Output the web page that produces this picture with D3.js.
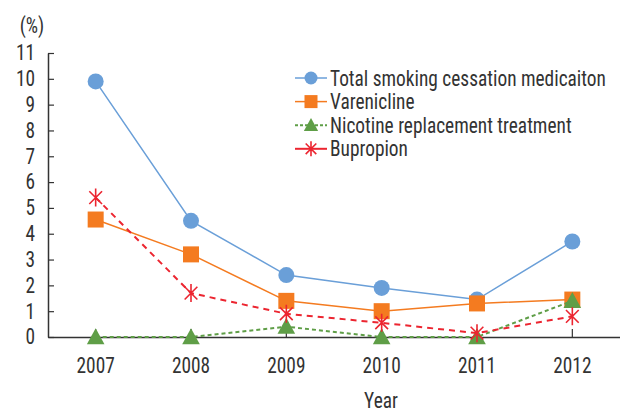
<!DOCTYPE html>
<html>
<head>
<meta charset="utf-8">
<script src="https://cdn.jsdelivr.net/npm/d3@7"></script>
<style>
  body { margin: 0; background: #fff; }
  text { font-family: "Roboto Condensed", "Roboto", sans-serif; fill: #333; }
</style>
</head>
<body>
<div id="chart"></div>
<script>
// Data
const years = ["2007", "2008", "2009", "2010", "2011", "2012"];
const total = [9.9, 4.5, 2.4, 1.9, 1.45, 3.7];
const varenicline = [4.55, 3.2, 1.4, 1.0, 1.3, 1.45];
const nicotine = [0, 0, 0.4, 0, 0, 1.4];
const bupropion = [5.4, 1.7, 0.9, 0.55, 0.15, 0.8];
const yTicks = d3.range(0, 12);

const series = [
    { name: "Total smoking cessation medicaiton", values: total, color: "#6a9fd8", dash: null, width: 1.5, marker: "circle" },
    { name: "Varenicline", values: varenicline, color: "#f47b20", dash: null, width: 1.5, marker: "square" },
    { name: "Nicotine replacement treatment", values: nicotine, color: "#5f9e47", dash: "4,3", width: 2, marker: "triangle" },
    { name: "Bupropion", values: bupropion, color: "#ec2530", dash: "6,5", width: 2, marker: "star" }
];

const fontSize = 21.5;

const W = 620, H = 412;
const margin = { top: 53, right: 0, bottom: 75, left: 48 };
const width = W - margin.left - margin.right;
const height = H - margin.top - margin.bottom;

const svg = d3.select("#chart").append("svg")
    .attr("width", W)
    .attr("height", H);

const g = svg.append("g")
    .attr("transform", `translate(${margin.left},${margin.top})`);

const x = d3.scaleBand()
    .domain(years)
    .range([0, width]);

const y = d3.scaleLinear()
    .domain([0, 11])
    .range([height, 0]);

// Axes (ticks point inward)
const yAxis = g.append("g")
    .call(d3.axisLeft(y).tickValues(yTicks).tickSizeInner(-6).tickSizeOuter(0).tickPadding(13));
yAxis.select(".domain").attr("stroke", "#333").attr("stroke-width", 1.5);
yAxis.selectAll(".tick line").attr("stroke", "#333").attr("stroke-width", 1.2);
yAxis.selectAll("text").attr("font-size", fontSize).attr("fill", "#333");

const xAxis = g.append("g")
    .attr("transform", `translate(0,${height})`)
    .call(d3.axisBottom(x).tickSizeInner(-8).tickSizeOuter(0).tickPadding(21));
xAxis.select(".domain").attr("stroke", "#333").attr("stroke-width", 1.5);
xAxis.selectAll(".tick line").attr("stroke", "#333").attr("stroke-width", 1.2);
xAxis.selectAll("text").attr("font-size", fontSize).attr("fill", "#333");

// Axis titles
svg.append("text")
    .attr("x", 32)
    .attr("y", 33)
    .attr("text-anchor", "middle")
    .attr("font-size", fontSize)
    .text("(%)");

svg.append("text")
    .attr("x", margin.left + width / 2 + 47)
    .attr("y", 408)
    .attr("text-anchor", "middle")
    .attr("font-size", fontSize)
    .text("Year");

// Marker drawing
function drawMarker(sel, type, color, s) {
    if (type === "circle") {
        sel.append("circle").attr("r", s / 2).attr("fill", color);
    } else if (type === "square") {
        sel.append("rect").attr("x", -s / 2).attr("y", -s / 2)
            .attr("width", s).attr("height", s).attr("fill", color);
    } else if (type === "triangle") {
        sel.append("path")
            .attr("d", `M0,${-s * 0.55}L${s * 0.55},${s * 0.45}L${-s * 0.55},${s * 0.45}Z`)
            .attr("fill", color);
    } else if (type === "star") {
        const r = s / 2;
        const d = r * Math.cos(Math.PI / 4);
        sel.append("path")
            .attr("d", `M0,${-r}V${r}M${-d},${-d}L${d},${d}M${d},${-d}L${-d},${d}`)
            .attr("stroke", color).attr("stroke-width", 1.6).attr("fill", "none");
    }
}

const line = d3.line()
    .x((d, i) => x(years[i]) + x.bandwidth() / 2)
    .y(d => y(d));

series.forEach(s => {
    const sg = g.append("g");
    sg.append("path")
        .datum(s.values)
        .attr("fill", "none")
        .attr("stroke", s.color)
        .attr("stroke-width", s.width)
        .attr("stroke-dasharray", s.dash)
        .attr("d", line);
    sg.selectAll(".pt")
        .data(s.values)
        .enter().append("g")
        .attr("class", "pt")
        .attr("transform", (d, i) => `translate(${x(years[i]) + x.bandwidth() / 2},${y(d)})`)
        .each(function() { drawMarker(d3.select(this), s.marker, s.color, s.marker === "star" ? 18 : 16); });
});

// Legend
const legend = svg.append("g").attr("transform", "translate(295,78)");
series.forEach((s, i) => {
    const row = legend.append("g").attr("transform", `translate(0,${i * 23.6})`);
    row.append("line")
        .attr("x1", 0).attr("x2", 32)
        .attr("stroke", s.color)
        .attr("stroke-width", s.width)
        .attr("stroke-dasharray", s.marker === "triangle" ? "3,2" : null);
    drawMarker(row.append("g").attr("transform", "translate(16,0)"), s.marker, s.color, s.marker === "star" ? 15 : 13);
    row.append("text")
        .attr("x", 35)
        .attr("y", 0)
        .attr("dy", "0.35em")
        .attr("font-size", fontSize)
        .text(s.name);
});

// The reference uses a condensed face: squeeze Roboto horizontally
svg.selectAll("text").each(function() {
    const len = this.getComputedTextLength();
    d3.select(this).attr("textLength", len * 0.9).attr("lengthAdjust", "spacingAndGlyphs");
});
</script>
</body>
</html>
